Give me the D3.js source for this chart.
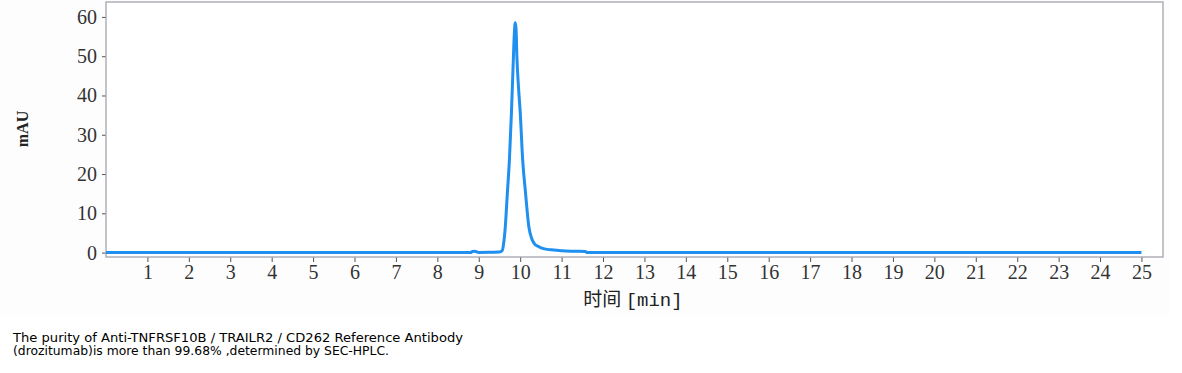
<!DOCTYPE html>
<html>
<head>
<meta charset="utf-8">
<script src="https://cdn.jsdelivr.net/npm/d3@7"></script>
<style>
  html, body { margin: 0; padding: 0; background: #ffffff; }
  svg { display: block; }
</style>
</head>
<body>
<svg id="chart" width="1182" height="373"></svg>
<script>
// ---- data ----
const timeMin = [0, 8.8, 8.85, 8.9, 8.95, 9.0, 9.3, 9.5, 9.57, 9.6, 9.64, 9.69, 9.74, 9.79, 9.83, 9.86, 9.88, 9.9, 9.92, 9.96, 10.0, 10.06, 10.13, 10.21, 10.28, 10.34, 10.45, 10.56, 10.75, 11.0, 11.3, 11.57, 11.62, 25];
const absorbance = [0, 0, 0.3, 0.35, 0.2, 0.05, 0.1, 0.15, 0.6, 2.3, 6.5, 15.1, 23.6, 35.9, 47.8, 56, 58.5, 57, 50, 42, 35.9, 23.6, 15.1, 6.5, 3.5, 2.3, 1.5, 1.0, 0.7, 0.45, 0.35, 0.3, 0, 0];
const xTicks = d3.range(1, 26);
const yTicks = [0, 10, 20, 30, 40, 50, 60];
const yLabel = "mAU";
const xLabelCJK = "时间";
const xLabelUnit = "[min]";
const captionLines = [
  "The purity of Anti-TNFRSF10B / TRAILR2 / CD262 Reference Antibody",
  "(drozitumab)is more than 99.68% ,determined by SEC-HPLC."
];

// ---- layout ----
const svg = d3.select("#chart");
const pLeft = 106, pRight = 1163, pTop = 2, pBottom = 257;

const x = d3.scaleLinear().domain([0, 25.52]).range([pLeft, pRight]);
const y = d3.scaleLinear().domain([-1.12, 63.8]).range([pBottom, pTop]);

svg.append("rect").attr("x", 0).attr("y", 0).attr("width", 1182).attr("height", 373).attr("fill", "#ffffff");
svg.append("rect").attr("x", 0).attr("y", 0).attr("width", 1170).attr("height", 315).attr("fill", "#fdfdfd");
svg.append("rect").attr("x", pLeft).attr("y", pTop).attr("width", pRight - pLeft).attr("height", pBottom - pTop).attr("fill", "#ffffff");

// axes
const tickFont = "'Liberation Serif', 'DejaVu Serif', serif";
const xAxis = d3.axisBottom(x).tickValues(xTicks).tickSize(5).tickSizeOuter(0).tickPadding(3).tickFormat(d3.format("d"));
const gx = svg.append("g").attr("transform", `translate(0,${pBottom})`).call(xAxis);
gx.select(".domain").remove();
gx.selectAll(".tick line").attr("stroke", "#555").attr("stroke-width", 1);
gx.selectAll(".tick text").attr("fill", "#333").attr("font-family", tickFont).attr("font-size", 20);

const yAxis = d3.axisLeft(y).tickValues(yTicks).tickSize(4).tickSizeOuter(0).tickPadding(5).tickFormat(d3.format("d"));
const gy = svg.append("g").attr("transform", `translate(${pLeft},0)`).call(yAxis);
gy.select(".domain").remove();
gy.selectAll(".tick line").attr("stroke", "#555").attr("stroke-width", 1);
gy.selectAll(".tick text").attr("fill", "#333").attr("font-family", tickFont).attr("font-size", 20);

// frame
svg.append("rect").attr("x", pLeft).attr("y", pTop).attr("width", pRight - pLeft).attr("height", pBottom - pTop)
  .attr("fill", "none").attr("stroke", "#a4a4ac").attr("stroke-width", 1.3);

// chromatogram trace
const line = d3.line().x((d, i) => x(timeMin[i])).y(d => y(d)).curve(d3.curveMonotoneX);
svg.append("path").datum(absorbance).attr("d", line)
  .attr("fill", "none").attr("stroke", "#1f8ff0").attr("stroke-width", 3).attr("stroke-linejoin", "round");

// axis titles
svg.append("text").attr("transform", "translate(28,129) rotate(-90)")
  .attr("text-anchor", "middle").attr("font-family", tickFont).attr("font-weight", "bold")
  .attr("font-size", 16).attr("fill", "#222").text(yLabel);

const xt = svg.append("text").attr("x", 633).attr("y", 306).attr("text-anchor", "middle")
  .attr("font-size", 19).attr("fill", "#222");
xt.append("tspan").attr("font-family", "'Noto Sans CJK SC', sans-serif").text(xLabelCJK + " ");
xt.append("tspan").attr("font-family", "'Liberation Mono', 'DejaVu Sans Mono', monospace").text(xLabelUnit);

// caption
const caption = svg.append("g");
const capLens = [450, 376];
captionLines.forEach((t, i) => {
  caption.append("text").attr("x", 13).attr("y", 342 + i * 13)
    .attr("font-family", "'DejaVu Sans', sans-serif").attr("font-size", 12).attr("fill", "#000")
    .attr("textLength", capLens[i]).attr("lengthAdjust", "spacingAndGlyphs").text(t);
});
</script>
</body>
</html>
